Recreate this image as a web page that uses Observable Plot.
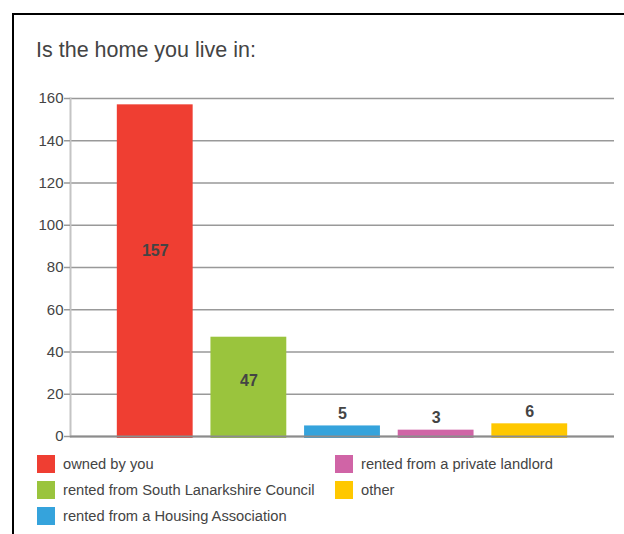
<!DOCTYPE html>
<html>
<head>
<meta charset="utf-8">
<script src="https://cdn.jsdelivr.net/npm/d3@7"></script>
<script src="https://cdn.jsdelivr.net/npm/@observablehq/plot@0.6"></script>
<style>
  html, body { margin: 0; padding: 0; background: #fff; overflow: hidden; width: 624px; height: 534px; }
  body { position: relative; font-family: "Liberation Sans", Arial, sans-serif; color: #444; }
  #frame { position: absolute; left: 12px; top: 13px; width: 700px; height: 600px; border: 2px solid #000; box-sizing: border-box; }
  #title { position: absolute; left: 36px; top: 40px; font-size: 21.5px; line-height: 21.5px; color: #444; white-space: nowrap; }
  #chart { position: absolute; left: 0; top: 0; }
  #legend { position: absolute; left: 37px; top: 455px; display: grid; grid-auto-flow: column; grid-template-rows: repeat(3, 26px); grid-template-columns: 298px 260px; }
  .item { display: flex; align-items: flex-start; font-size: 14.7px; line-height: 18px; color: #444; white-space: nowrap; }
  .sw { width: 18px; height: 18px; margin-right: 8px; flex: none; }
</style>
</head>
<body>
<div id="frame"></div>
<div id="title">Is the home you live in:</div>
<div id="chart"></div>
<div id="legend"></div>
<script>
const categories = [
  "owned by you",
  "rented from South Lanarkshire Council",
  "rented from a Housing Association",
  "rented from a private landlord",
  "other"
];
const values = [157, 47, 5, 3, 6];
const colors = ["#ef3e32", "#9ac43d", "#35a3dc", "#d064a6", "#ffc800"];
const yTicks = [0, 20, 40, 60, 80, 100, 120, 140, 160];

const data = categories.map((c, i) => ({cat: c, value: values[i]}));
const inside = data.filter(d => d.value > 20);
const above = data.filter(d => d.value <= 20);

const W = 624, H = 446;
const plot = Plot.plot({
  width: W,
  height: H,
  marginLeft: 70,
  marginRight: 10,
  marginTop: 98,
  marginBottom: H - 436,
  style: {fontFamily: "Liberation Sans, Arial, sans-serif", background: "transparent", overflow: "visible"},
  x: {domain: categories, paddingInner: 0.19, paddingOuter: 0.5, round: false, axis: null},
  y: {domain: [0, 160], axis: null},
  color: {domain: categories, range: colors},
  marks: [
    Plot.gridY(yTicks, {stroke: "#999", strokeOpacity: 1, strokeWidth: 1.5}),
    Plot.frame({anchor: "left", stroke: "#c4c4c4", strokeWidth: 2}),
    Plot.barY(data, {x: "cat", y: "value", fill: "cat", insetBottom: -2}),
    Plot.ruleY([0], {stroke: "#8c8c8c", strokeWidth: 2}),
    Plot.text(inside, {x: "cat", y: d => d.value * 0.56, text: d => String(d.value), fill: "#444", fontWeight: "bold", fontSize: 16}),
    Plot.text(above, {x: "cat", y: "value", text: d => String(d.value), dy: -12, fill: "#444", fontWeight: "bold", fontSize: 16}),
    Plot.axisY(yTicks, {anchor: "left", tickSize: 6, tickPadding: 1, fontSize: 15, stroke: "#999", fill: "#444", strokeWidth: 1.5, label: null})
  ]
});
document.getElementById("chart").appendChild(plot);

const legend = document.getElementById("legend");
categories.forEach((c, i) => {
  const item = document.createElement("div");
  item.className = "item";
  const sw = document.createElement("span");
  sw.className = "sw";
  sw.style.background = colors[i];
  const t = document.createElement("span");
  t.textContent = c;
  item.appendChild(sw);
  item.appendChild(t);
  legend.appendChild(item);
});
</script>
</body>
</html>
